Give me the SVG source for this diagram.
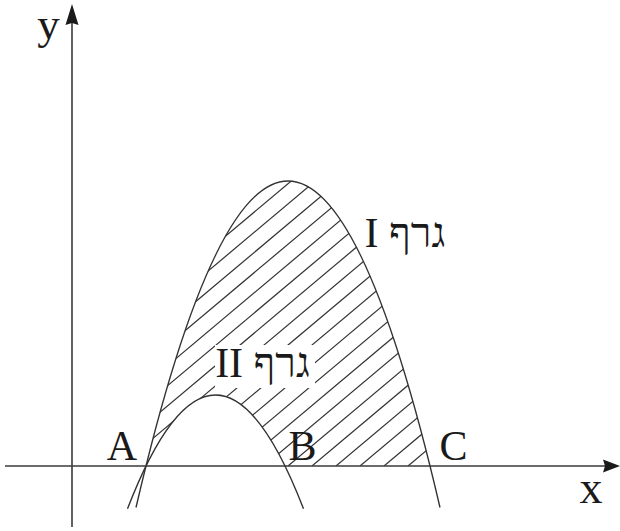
<svg xmlns="http://www.w3.org/2000/svg" width="620" height="531" viewBox="0 0 620 531">
<style>
.axis{stroke:#3a3a3a;stroke-width:1.6;fill:none}
.head{fill:#1a1a1a;stroke:none}
.curve{stroke:#333;stroke-width:1.4;fill:none}
.hatch line{stroke:#333;stroke-width:1.2}
.lbl{font-family:"Liberation Serif","DejaVu Serif","Noto Sans",serif;font-size:42px;fill:#1a1a1a;text-anchor:middle}
.heb{font-family:"Liberation Serif","DejaVu Sans","Noto Sans",serif;font-size:42px;fill:#1a1a1a;text-anchor:middle;direction:rtl;unicode-bidi:embed}
</style>
<defs>
<clipPath id="region">
<path d="M146,466 Q288,-104 430,466 L285,466 Q215.5,324 146,466 Z"/>
</clipPath>
</defs>
<rect width="620" height="531" fill="#fff"/>
<g id="hatching" class="hatch" clip-path="url(#region)">
<line x1="-96" y1="466" x2="284" y2="146.8"/>
<line x1="-72" y1="466" x2="308" y2="146.8"/>
<line x1="-48" y1="466" x2="332" y2="146.8"/>
<line x1="-24" y1="466" x2="356" y2="146.8"/>
<line x1="0" y1="466" x2="380" y2="146.8"/>
<line x1="24" y1="466" x2="404" y2="146.8"/>
<line x1="48" y1="466" x2="428" y2="146.8"/>
<line x1="72" y1="466" x2="452" y2="146.8"/>
<line x1="96" y1="466" x2="476" y2="146.8"/>
<line x1="120" y1="466" x2="500" y2="146.8"/>
<line x1="144" y1="466" x2="524" y2="146.8"/>
<line x1="168" y1="466" x2="548" y2="146.8"/>
<line x1="192" y1="466" x2="572" y2="146.8"/>
<line x1="216" y1="466" x2="596" y2="146.8"/>
<line x1="240" y1="466" x2="620" y2="146.8"/>
<line x1="264" y1="466" x2="644" y2="146.8"/>
<line x1="288" y1="466" x2="668" y2="146.8"/>
<line x1="312" y1="466" x2="692" y2="146.8"/>
<line x1="336" y1="466" x2="716" y2="146.8"/>
<line x1="360" y1="466" x2="740" y2="146.8"/>
<line x1="384" y1="466" x2="764" y2="146.8"/>
<line x1="408" y1="466" x2="788" y2="146.8"/>
</g>
<g id="axes">
<line class="axis" x1="72" y1="527" x2="72" y2="20"/>
<polygon class="head" points="72,4 78.5,25 72,23 65.5,25"/>
<line class="axis" x1="5" y1="466" x2="606" y2="466"/>
<polygon class="head" points="620,466 603,472.5 605,466 603,459.5"/>
</g>
<g id="graph-I">
<path class="curve" d="M136,507.5 Q288,-145.5 440,507.5"/>
<text class="heb" x="405" y="247">גרף I</text>
</g>
<g id="graph-II">
<path class="curve" d="M127.5,508.8 Q215.5,281.2 303.5,508.8"/>
<rect x="215" y="345" width="100" height="43" fill="#fff"/>
<text class="heb" x="262.5" y="377">גרף II</text>
</g>
<g id="labels">
<text class="lbl" x="48.5" y="38.5" style="font-size:45px">y</text>
<text class="lbl" x="591" y="503" style="font-size:46px">x</text>
<text class="lbl" x="122" y="460">A</text>
<text class="lbl" x="302.5" y="460">B</text>
<text class="lbl" x="453.5" y="460">C</text>
</g>
</svg>
